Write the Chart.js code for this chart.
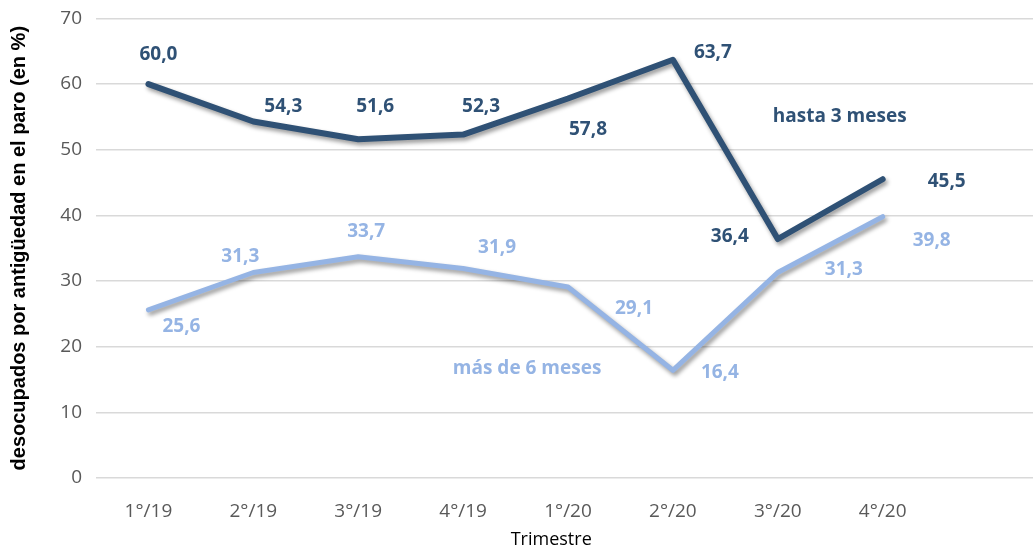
<!DOCTYPE html>
<html>
<head>
<meta charset="utf-8">
<script src="https://cdn.jsdelivr.net/npm/chart.js@4"></script>
<style>
  html, body { margin: 0; padding: 0; background: #fff; overflow: hidden; }
  #wrap { width: 1040px; height: 560px; margin-top: -7px; }
</style>
</head>
<body>
<div id="wrap"><canvas id="chart"></canvas></div>
<script>
// trimestres (the last slot is empty, like the original)
const trimestres = ['1°/19', '2°/19', '3°/19', '4°/19', '1°/20', '2°/20', '3°/20', '4°/20', ''];
const hasta3meses = [60.0, 54.3, 51.6, 52.3, 57.8, 63.7, 36.4, 45.5, null];
const mas6meses = [25.6, 31.3, 33.7, 31.9, 29.1, 16.4, 31.3, 39.8, null];
const yTicks = [0, 10, 20, 30, 40, 50, 60, 70];

const darkBlue = '#2f5175';
const lightBlue = '#95b4e4';

// where each value label sits relative to its point (px)
const darkLabelOffset = [[10, -29], [30, -15], [17, -33], [18, -28], [20, 31], [40, -7], [-48, -2], [64, 2]];
const lightLabelOffset = [[33, 17], [-13, -16], [8, -25], [34, -21], [66, 22], [47, 2], [66, -3], [49, 24]];

function fmt(v) {
    return v.toFixed(1).replace('.', ',');
}

const shadowPlugin = {
    id: 'shadow',
    beforeDatasetsDraw(chart) {
        const ctx = chart.ctx;
        ctx.save();
        ctx.shadowColor = 'rgba(0,0,0,0.4)';
        ctx.shadowBlur = 4;
        ctx.shadowOffsetX = 2;
        ctx.shadowOffsetY = 3;
    },
    afterDatasetsDraw(chart) {
        chart.ctx.restore();
    }
};

const labelPlugin = {
    id: 'valueLabels',
    afterDraw(chart) {
        const ctx = chart.ctx;
        ctx.save();
        ctx.font = 'bold 19px "Open Sans"';
        ctx.textAlign = 'center';
        ctx.textBaseline = 'middle';
        const sets = [[0, darkLabelOffset, darkBlue], [1, lightLabelOffset, lightBlue]];
        sets.forEach(([idx, offs, color]) => {
            const meta = chart.getDatasetMeta(idx);
            const data = chart.data.datasets[idx].data;
            ctx.fillStyle = color;
            meta.data.forEach((pt, i) => {
                if (data[i] == null) return;
                ctx.fillText(fmt(data[i]), pt.x + offs[i][0], pt.y + offs[i][1]);
            });
        });
        // series names
        const x = chart.scales.x, y = chart.scales.y;
        ctx.fillStyle = darkBlue;
        ctx.fillText('hasta 3 meses', x.getPixelForValue(6.59), y.getPixelForValue(55.1));
        ctx.fillStyle = lightBlue;
        ctx.fillText('más de 6 meses', x.getPixelForValue(3.61), y.getPixelForValue(16.7));
        // axis title
        ctx.fillStyle = '#000';
        ctx.font = '18px "Open Sans"';
        ctx.fillText('Trimestre', x.getPixelForValue(3.84), 547);
        ctx.restore();
    }
};

new Chart(document.getElementById('chart'), {
    type: 'line',
    data: {
        labels: trimestres,
        datasets: [{
            label: 'hasta 3 meses',
            data: hasta3meses,
            borderColor: darkBlue,
            borderWidth: 6,
            pointRadius: 0,
            tension: 0,
            borderJoinStyle: 'round',
            borderCapStyle: 'round'
        }, {
            label: 'más de 6 meses',
            data: mas6meses,
            borderColor: lightBlue,
            borderWidth: 5,
            pointRadius: 0,
            tension: 0,
            borderJoinStyle: 'round',
            borderCapStyle: 'round'
        }]
    },
    options: {
        responsive: true,
        maintainAspectRatio: false,
        animation: false,
        layout: { padding: { top: 0, right: 0, left: 0, bottom: 0 } },
        plugins: {
            legend: { display: false },
            tooltip: { enabled: false }
        },
        scales: {
            x: {
                offset: true,
                grid: { display: false },
                border: { display: false },
                ticks: { color: '#595959', font: { family: 'Open Sans', size: 19 }, padding: 14, maxRotation: 0 },
                afterFit(s) { s.height = 75; }
            },
            y: {
                min: 0,
                max: 70,
                afterBuildTicks(s) { s.ticks = yTicks.map(v => ({ value: v })); },
                grid: { color: '#d9d9d9', lineWidth: 1.5, drawTicks: false },
                border: { display: false },
                ticks: { color: '#595959', font: { family: 'Open Sans', size: 19 }, padding: 14 },
                title: { display: true, text: 'desocupados por antigüedad en el paro (en %)', color: '#000', font: { family: 'Liberation Sans', size: 20, weight: 'bold' }, padding: { top: 7, bottom: 0 } },
                afterFit(s) { s.width = 96; }
            }
        }
    },
    plugins: [shadowPlugin, labelPlugin]
});
</script>
</body>
</html>
